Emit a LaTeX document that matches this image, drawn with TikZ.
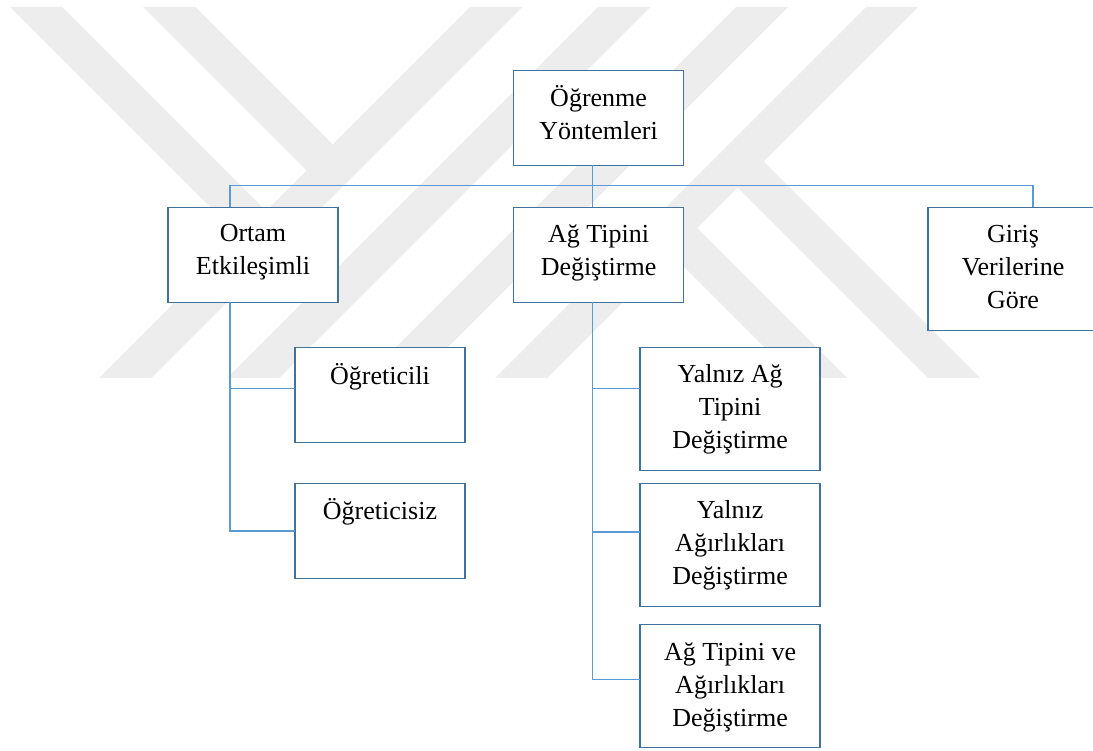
\documentclass[tikz,border=0pt]{standalone}
\usepackage{fontspec}
\setmainfont{Liberation Serif}
\usetikzlibrary{positioning}
\definecolor{boxblue}{RGB}{65,113,156}
\definecolor{linkblue}{RGB}{91,155,213}

\begin{document}
\begin{tikzpicture}[x=1pt,y=-1pt,node distance=40pt,font=\fontsize{26}{33}\selectfont]
	
	\tikzset{node box/.style={rectangle, draw=boxblue, fill=white,
			line width=1.5pt, outer sep=0pt, align=center,
			minimum width=170pt, minimum height=95pt,
			execute at end node=\strut}}
	\tikzset{node tall/.style={node box, minimum height=123pt, inner ysep=0pt,
			execute at end node=\rule[-9.9pt]{0pt}{100pt}}}
	\tikzset{node wide/.style={node tall, minimum width=180pt}}
	\tikzset{link/.style={draw=linkblue, line width=1.4pt}}
	\tikzset{wm band/.style={fill=black!7}}
	
	\path[use as bounding box, fill=white] (0,0) rectangle (1093,751);
	
	\fill[wm band] (10,7) -- (62,7) -- (279,224) -- (253,250) -- cycle;
	\fill[wm band] (143,7) -- (195,7) -- (345.5,157.5) -- (319.5,183.5) -- cycle;
	\fill[wm band] (470,7) -- (522,7) -- (151,378) -- (99,378) -- cycle;
	\fill[wm band] (598,7) -- (650,7) -- (279,378) -- (227,378) -- cycle;
	\fill[wm band] (736,7) -- (788,7) -- (417,378) -- (365,378) -- cycle;
	\fill[wm band] (866,7) -- (918,7) -- (547,378) -- (495,378) -- cycle;
	\fill[wm band] (684,215) -- (847,378) -- (795,378) -- (658,241) -- cycle;
	\fill[wm band] (750.5,148.5) -- (980,378) -- (928,378) -- (724.5,174.5) -- cycle;
	
	\node[node box] (root) at (598.6,117.8) {Öğrenme\\Yöntemleri};
	\node[node box, below=42pt of root] (agtip) {Ağ Tipini\\Değiştirme};
	\node[node box, left=175.6pt of agtip] (ortam) {Ortam\\Etkileşimli};
	\node[node tall, right=244.4pt of agtip.north east, anchor=north west] (giris) {Giriş\\Verilerine\\Göre};
	
	\node[node box, below=45.4pt of ortam, xshift=127pt] (ogretli) {Öğreticili\\\mbox{}};
	\node[node box, below=40.6pt of ogretli] (ogretsiz) {Öğreticisiz\\\mbox{}};
	
	\node[node wide, below=45pt of agtip, xshift=131.5pt] (yalniz) {Yalnız Ağ\\Tipini\\Değiştirme};
	\node[node wide, below=13pt of yalniz] (agirlik) {Yalnız\\Ağırlıkları\\Değiştirme};
	\node[node wide, below=18.4pt of agirlik] (ikisi) {Ağ Tipini ve\\Ağırlıkları\\Değiştirme};
	
	\coordinate[above=22pt of agtip] (bus);
	
	\draw[link] ([xshift=-6pt]root.south) -- ([xshift=-6pt]agtip.north);
	\draw[link] ([xshift=-23pt]ortam.north) |- (bus) -| ([xshift=20pt]giris.north);
	\draw[link] ([xshift=-23pt]ortam.south) |- ([yshift=6.5pt]ogretli.west);
	\draw[link] ([xshift=-23pt]ortam.south) |- (ogretsiz.west);
	\draw[link] ([xshift=-6pt]agtip.south) |- ([yshift=20pt]yalniz.west);
	\draw[link] ([xshift=-6pt]agtip.south) |- ([yshift=13pt]agirlik.west);
	\draw[link] ([xshift=-6pt]agtip.south) |- ([yshift=7pt]ikisi.west);
\end{tikzpicture}
\end{document}
